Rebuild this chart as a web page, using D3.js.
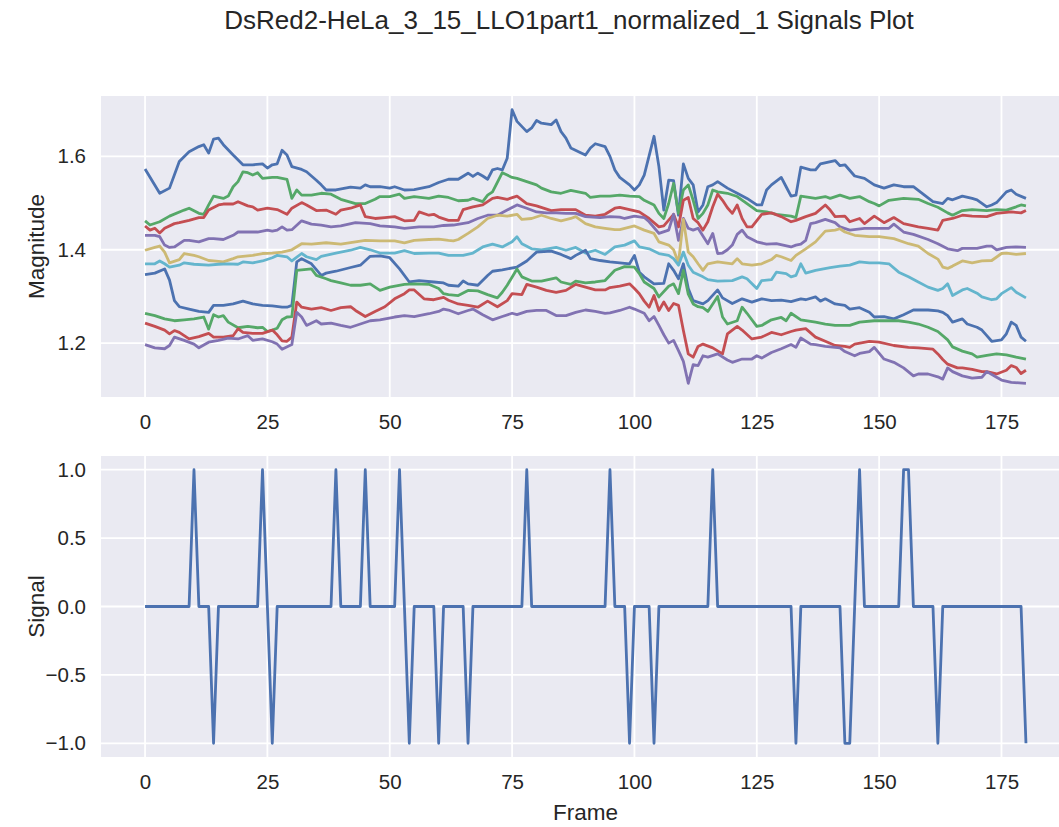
<!DOCTYPE html>
<html>
<head>
<meta charset="utf-8">
<script src="https://cdn.jsdelivr.net/npm/d3@7"></script>
<style>
  body { margin: 0; background: white; }
  text { font-family: "Liberation Sans", Arial, sans-serif; fill: #262626; }
</style>
</head>
<body>
<div class="chart"></div>
<script>
// magnitude traces, [frame, value]
let mag1 = [[0,1.573],[3,1.521],[5,1.532],[7,1.589],[9,1.610],[11,1.621],[12,1.625],[13,1.607],[14,1.637],[15,1.639],[16,1.625],[18,1.603],[20,1.582],[22,1.582],[24,1.584],[25,1.575],[26,1.582],[27,1.584],[28,1.613],[29,1.603],[30,1.578],[32,1.572],[33,1.567],[35,1.549],[36,1.539],[37,1.528],[39,1.528],[42,1.534],[44,1.532],[45,1.539],[46,1.535],[48,1.535],[50,1.532],[51,1.535],[53,1.528],[55,1.529],[58,1.535],[60,1.544],[62,1.551],[64,1.551],[66,1.564],[67,1.557],[68,1.564],[69,1.558],[70,1.551],[71,1.571],[72,1.574],[73,1.571],[74,1.596],[75,1.700],[76,1.675],[78,1.653],[79,1.661],[80,1.677],[81,1.671],[83,1.668],[84,1.678],[85,1.653],[86,1.639],[87,1.618],[89,1.608],[90,1.603],[91,1.618],[92,1.627],[94,1.621],[95,1.600],[96,1.571],[97,1.555],[99,1.539],[100,1.528],[101,1.539],[102,1.560],[104,1.643],[105,1.578],[106,1.485],[107,1.549],[108,1.548],[109,1.474],[110,1.584],[111,1.553],[112,1.539],[113,1.481],[114,1.496],[115,1.535],[116,1.539],[117,1.546],[119,1.532],[121,1.521],[123,1.510],[125,1.496],[126,1.496],[127,1.528],[128,1.539],[130,1.555],[131,1.535],[132,1.515],[133,1.517],[134,1.577],[136,1.571],[137,1.571],[138,1.584],[141,1.591],[142,1.580],[143,1.582],[145,1.558],[147,1.553],[149,1.539],[151,1.532],[153,1.539],[155,1.535],[157,1.535],[159,1.519],[161,1.503],[163,1.499],[164,1.510],[165,1.507],[167,1.515],[169,1.510],[170,1.507],[172,1.492],[173,1.496],[174,1.501],[176,1.524],[177,1.528],[178,1.519],[180,1.510]];
let mag2 = [[0,1.462],[1,1.453],[3,1.460],[5,1.472],[8,1.485],[9,1.489],[11,1.478],[12,1.476],[13,1.496],[14,1.515],[16,1.510],[17,1.515],[18,1.535],[19,1.546],[20,1.567],[21,1.565],[22,1.560],[23,1.565],[24,1.553],[26,1.555],[27,1.555],[29,1.551],[30,1.510],[31,1.528],[32,1.517],[34,1.517],[36,1.521],[38,1.519],[40,1.508],[43,1.499],[45,1.499],[47,1.508],[48,1.514],[50,1.514],[52,1.519],[53,1.510],[55,1.514],[58,1.510],[60,1.515],[62,1.512],[64,1.505],[66,1.506],[67,1.510],[69,1.503],[70,1.517],[71,1.524],[73,1.565],[74,1.560],[75,1.555],[76,1.553],[78,1.546],[80,1.539],[81,1.532],[83,1.524],[85,1.521],[87,1.527],[90,1.521],[91,1.512],[93,1.515],[95,1.515],[97,1.517],[99,1.515],[101,1.514],[102,1.506],[104,1.496],[105,1.478],[106,1.467],[107,1.499],[108,1.542],[109,1.478],[110,1.528],[111,1.539],[112,1.506],[113,1.467],[114,1.478],[115,1.496],[116,1.528],[117,1.524],[119,1.521],[121,1.514],[123,1.499],[125,1.484],[127,1.481],[129,1.476],[132,1.472],[133,1.469],[134,1.515],[137,1.510],[139,1.514],[140,1.510],[142,1.517],[144,1.510],[146,1.514],[148,1.503],[149,1.499],[150,1.494],[152,1.506],[155,1.510],[158,1.508],[160,1.499],[162,1.491],[164,1.479],[165,1.474],[167,1.484],[169,1.486],[172,1.484],[174,1.486],[176,1.485],[178,1.492],[179,1.496],[180,1.494]];
let mag3 = [[0,1.451],[1,1.442],[2,1.446],[3,1.436],[4,1.446],[6,1.456],[7,1.458],[9,1.463],[11,1.469],[12,1.469],[13,1.485],[15,1.496],[16,1.498],[18,1.498],[19,1.503],[21,1.494],[22,1.492],[23,1.485],[25,1.489],[27,1.486],[29,1.476],[30,1.489],[32,1.501],[33,1.496],[35,1.484],[37,1.485],[39,1.476],[40,1.485],[42,1.489],[44,1.496],[45,1.471],[47,1.467],[49,1.469],[51,1.471],[53,1.462],[55,1.463],[56,1.481],[58,1.474],[59,1.476],[60,1.470],[62,1.463],[64,1.463],[65,1.486],[67,1.492],[69,1.496],[71,1.510],[72,1.512],[74,1.508],[76,1.515],[78,1.499],[80,1.494],[83,1.484],[85,1.486],[88,1.486],[90,1.474],[92,1.472],[94,1.476],[96,1.489],[97,1.491],[99,1.486],[101,1.481],[103,1.467],[105,1.449],[106,1.451],[108,1.476],[109,1.449],[110,1.506],[111,1.512],[112,1.467],[113,1.458],[114,1.442],[115,1.460],[116,1.492],[117,1.519],[118,1.506],[119,1.490],[120,1.478],[121,1.496],[122,1.467],[123,1.449],[124,1.449],[126,1.476],[128,1.479],[130,1.471],[132,1.460],[133,1.463],[135,1.471],[137,1.478],[139,1.496],[140,1.485],[141,1.471],[143,1.472],[144,1.460],[146,1.467],[147,1.456],[149,1.472],[151,1.458],[153,1.469],[155,1.456],[158,1.449],[160,1.446],[162,1.442],[163,1.463],[165,1.467],[167,1.474],[169,1.472],[172,1.471],[174,1.478],[177,1.481],[179,1.479],[180,1.484]];
let mag4 = [[0,1.431],[2,1.431],[3,1.428],[4,1.410],[5,1.405],[6,1.406],[8,1.420],[9,1.420],[11,1.417],[13,1.424],[14,1.424],[16,1.422],[18,1.431],[19,1.438],[21,1.438],[23,1.438],[25,1.442],[26,1.440],[27,1.442],[28,1.449],[29,1.442],[30,1.443],[32,1.462],[34,1.455],[36,1.453],[38,1.449],[40,1.451],[43,1.458],[46,1.456],[48,1.451],[51,1.449],[53,1.446],[56,1.449],[59,1.449],[61,1.452],[63,1.453],[66,1.458],[68,1.467],[70,1.474],[72,1.474],[74,1.485],[76,1.496],[78,1.489],[80,1.481],[82,1.479],[84,1.479],[86,1.478],[88,1.478],[90,1.471],[93,1.469],[95,1.471],[97,1.470],[98,1.467],[100,1.472],[102,1.469],[103,1.460],[105,1.435],[107,1.442],[108,1.476],[109,1.420],[110,1.467],[111,1.446],[112,1.442],[113,1.446],[115,1.413],[116,1.435],[117,1.392],[118,1.393],[119,1.400],[120,1.410],[121,1.433],[122,1.442],[123,1.428],[125,1.417],[127,1.412],[129,1.413],[132,1.406],[133,1.410],[134,1.412],[135,1.420],[136,1.456],[137,1.458],[139,1.465],[141,1.458],[142,1.449],[144,1.442],[147,1.446],[149,1.446],[152,1.446],[153,1.455],[155,1.438],[157,1.433],[160,1.422],[162,1.413],[164,1.402],[166,1.398],[167,1.403],[170,1.403],[172,1.408],[173,1.408],[174,1.400],[176,1.405],[178,1.406],[180,1.405]];
let mag5 = [[0,1.399],[2,1.405],[3,1.408],[4,1.395],[5,1.372],[7,1.379],[8,1.392],[10,1.388],[11,1.385],[13,1.377],[14,1.376],[16,1.374],[18,1.381],[19,1.385],[22,1.388],[24,1.392],[26,1.393],[28,1.395],[30,1.400],[32,1.413],[34,1.412],[37,1.415],[40,1.412],[43,1.417],[45,1.420],[48,1.419],[51,1.419],[53,1.415],[55,1.420],[58,1.422],[60,1.423],[62,1.420],[63,1.419],[64,1.422],[66,1.435],[68,1.449],[70,1.467],[72,1.474],[74,1.472],[76,1.476],[77,1.465],[79,1.467],[81,1.474],[83,1.467],[85,1.462],[87,1.467],[88,1.471],[90,1.456],[92,1.449],[94,1.446],[96,1.443],[97,1.443],[100,1.451],[102,1.442],[104,1.435],[105,1.417],[107,1.410],[108,1.400],[109,1.372],[110,1.465],[111,1.395],[112,1.385],[113,1.370],[114,1.356],[115,1.370],[117,1.374],[120,1.370],[121,1.381],[122,1.370],[124,1.367],[126,1.370],[128,1.379],[129,1.388],[130,1.385],[132,1.377],[133,1.388],[135,1.402],[137,1.417],[139,1.440],[141,1.442],[142,1.445],[143,1.438],[145,1.431],[148,1.428],[150,1.428],[153,1.424],[156,1.413],[158,1.408],[160,1.392],[162,1.380],[163,1.363],[164,1.360],[165,1.365],[167,1.376],[169,1.372],[171,1.376],[173,1.377],[175,1.392],[176,1.393],[178,1.390],[180,1.392]];
let mag6 = [[0,1.370],[2,1.370],[3,1.376],[4,1.370],[5,1.363],[7,1.367],[8,1.372],[10,1.369],[13,1.367],[15,1.369],[17,1.370],[19,1.369],[20,1.374],[22,1.372],[24,1.376],[26,1.383],[27,1.388],[29,1.385],[30,1.376],[32,1.392],[33,1.385],[35,1.379],[36,1.386],[39,1.393],[42,1.399],[44,1.405],[46,1.400],[48,1.393],[51,1.393],[53,1.398],[55,1.392],[58,1.393],[60,1.393],[62,1.388],[65,1.388],[67,1.393],[69,1.406],[71,1.412],[73,1.406],[75,1.417],[76,1.428],[77,1.413],[79,1.402],[81,1.400],[84,1.405],[86,1.399],[88,1.405],[90,1.393],[92,1.399],[94,1.390],[96,1.406],[98,1.410],[100,1.419],[101,1.406],[103,1.402],[105,1.392],[107,1.388],[108,1.381],[109,1.367],[110,1.395],[111,1.367],[112,1.352],[114,1.342],[115,1.336],[117,1.333],[120,1.334],[122,1.342],[123,1.338],[125,1.317],[126,1.334],[128,1.336],[129,1.352],[131,1.349],[132,1.342],[133,1.345],[134,1.370],[135,1.350],[137,1.356],[140,1.362],[142,1.365],[144,1.367],[146,1.374],[148,1.372],[150,1.372],[152,1.370],[154,1.352],[156,1.342],[158,1.331],[160,1.320],[162,1.313],[163,1.317],[164,1.327],[165,1.302],[167,1.314],[168,1.317],[170,1.307],[171,1.299],[173,1.293],[174,1.295],[175,1.306],[177,1.319],[178,1.309],[180,1.297]];
let mag7 = [[0,1.347],[2,1.350],[4,1.359],[5,1.335],[6,1.291],[7,1.278],[9,1.273],[11,1.268],[13,1.266],[14,1.281],[16,1.281],[18,1.284],[20,1.290],[22,1.284],[24,1.281],[26,1.280],[28,1.277],[29,1.277],[30,1.281],[31,1.374],[32,1.381],[34,1.370],[36,1.345],[37,1.350],[39,1.354],[42,1.362],[44,1.367],[46,1.386],[48,1.387],[50,1.383],[52,1.359],[54,1.331],[56,1.334],[59,1.331],[61,1.329],[62,1.324],[64,1.322],[65,1.333],[66,1.327],[68,1.324],[70,1.345],[71,1.354],[73,1.357],[76,1.363],[78,1.376],[80,1.395],[83,1.397],[85,1.390],[87,1.381],[88,1.388],[90,1.399],[91,1.381],[93,1.377],[95,1.374],[97,1.372],[99,1.370],[100,1.388],[101,1.352],[102,1.342],[104,1.327],[106,1.328],[107,1.370],[108,1.356],[109,1.338],[110,1.370],[111,1.317],[112,1.291],[114,1.284],[115,1.291],[117,1.314],[118,1.297],[120,1.285],[122,1.295],[124,1.288],[126,1.295],[128,1.291],[130,1.292],[132,1.289],[134,1.295],[135,1.293],[137,1.299],[138,1.290],[139,1.295],[141,1.284],[143,1.281],[144,1.273],[146,1.276],[148,1.266],[149,1.256],[151,1.257],[153,1.252],[155,1.261],[157,1.271],[160,1.271],[162,1.269],[163,1.266],[164,1.259],[165,1.245],[167,1.252],[168,1.241],[170,1.234],[171,1.228],[172,1.216],[173,1.204],[175,1.207],[176,1.220],[177,1.245],[178,1.238],[179,1.213],[180,1.204]];
let mag8 = [[0,1.264],[2,1.259],[4,1.252],[6,1.248],[8,1.250],[10,1.252],[12,1.256],[13,1.230],[14,1.261],[15,1.256],[16,1.259],[17,1.245],[19,1.233],[21,1.236],[23,1.233],[24,1.234],[25,1.225],[26,1.228],[27,1.232],[28,1.250],[29,1.256],[30,1.257],[31,1.356],[32,1.357],[34,1.359],[35,1.345],[37,1.338],[38,1.334],[40,1.329],[42,1.324],[44,1.324],[46,1.327],[48,1.313],[50,1.320],[53,1.326],[55,1.327],[58,1.326],[60,1.317],[61,1.306],[62,1.304],[64,1.302],[66,1.313],[68,1.312],[70,1.304],[72,1.297],[73,1.309],[74,1.324],[76,1.359],[77,1.342],[79,1.333],[81,1.333],[84,1.340],[85,1.331],[87,1.326],[88,1.333],[90,1.329],[92,1.331],[94,1.334],[96,1.356],[98,1.364],[100,1.363],[101,1.349],[102,1.331],[104,1.317],[105,1.299],[107,1.322],[108,1.327],[109,1.306],[110,1.356],[111,1.305],[112,1.284],[113,1.278],[114,1.276],[115,1.268],[117,1.300],[118,1.256],[119,1.241],[121,1.248],[122,1.277],[123,1.264],[125,1.236],[126,1.238],[128,1.250],[130,1.255],[131,1.248],[132,1.264],[134,1.250],[137,1.245],[139,1.241],[141,1.238],[144,1.238],[146,1.245],[149,1.248],[152,1.248],[154,1.248],[156,1.245],[158,1.241],[160,1.234],[162,1.225],[164,1.207],[165,1.192],[167,1.183],[169,1.177],[170,1.170],[172,1.174],[174,1.177],[176,1.175],[178,1.170],[180,1.166]];
let mag9 = [[0,1.243],[2,1.236],[4,1.228],[5,1.220],[6,1.227],[7,1.223],[9,1.209],[11,1.214],[13,1.221],[14,1.213],[16,1.213],[18,1.216],[19,1.231],[20,1.223],[22,1.221],[24,1.221],[26,1.228],[27,1.218],[28,1.205],[29,1.204],[30,1.213],[31,1.288],[32,1.277],[34,1.273],[36,1.276],[38,1.270],[40,1.276],[42,1.278],[43,1.270],[45,1.257],[47,1.268],[49,1.278],[51,1.295],[53,1.306],[54,1.314],[55,1.314],[57,1.295],[59,1.293],[61,1.298],[62,1.292],[64,1.284],[66,1.281],[68,1.277],[70,1.290],[72,1.278],[74,1.291],[75,1.306],[77,1.304],[78,1.326],[80,1.320],[82,1.313],[84,1.309],[86,1.313],[88,1.326],[90,1.320],[92,1.314],[94,1.314],[95,1.319],[97,1.322],[99,1.327],[100,1.317],[101,1.306],[102,1.290],[103,1.277],[104,1.302],[105,1.270],[106,1.288],[107,1.270],[108,1.285],[109,1.281],[110,1.227],[111,1.177],[112,1.170],[113,1.193],[114,1.198],[116,1.190],[118,1.177],[119,1.220],[121,1.236],[122,1.228],[124,1.209],[126,1.213],[128,1.223],[130,1.218],[132,1.225],[133,1.228],[135,1.231],[137,1.213],[139,1.204],[141,1.195],[143,1.193],[144,1.191],[145,1.198],[148,1.204],[150,1.202],[153,1.195],[156,1.191],[158,1.190],[161,1.187],[162,1.177],[163,1.165],[164,1.155],[166,1.147],[167,1.147],[169,1.144],[171,1.139],[172,1.139],[174,1.134],[176,1.142],[177,1.152],[178,1.148],[179,1.135],[180,1.142]];
let mag10 = [[0,1.197],[2,1.190],[4,1.188],[5,1.195],[6,1.213],[8,1.206],[10,1.198],[11,1.190],[13,1.202],[15,1.206],[17,1.211],[19,1.209],[21,1.216],[22,1.206],[24,1.209],[26,1.203],[27,1.198],[28,1.187],[30,1.197],[31,1.266],[32,1.256],[33,1.238],[35,1.248],[36,1.241],[38,1.243],[40,1.238],[42,1.234],[44,1.241],[46,1.248],[48,1.250],[51,1.256],[53,1.259],[55,1.257],[58,1.263],[60,1.268],[61,1.273],[62,1.271],[64,1.263],[66,1.270],[67,1.273],[69,1.261],[71,1.250],[73,1.257],[75,1.264],[76,1.261],[78,1.268],[80,1.270],[82,1.270],[84,1.259],[86,1.259],[88,1.266],[90,1.271],[92,1.268],[94,1.264],[95,1.265],[97,1.270],[99,1.277],[100,1.273],[102,1.264],[103,1.248],[104,1.257],[105,1.238],[106,1.218],[107,1.200],[108,1.206],[109,1.184],[110,1.161],[111,1.114],[112,1.154],[113,1.152],[114,1.173],[115,1.170],[117,1.177],[119,1.164],[120,1.159],[122,1.166],[124,1.166],[125,1.173],[126,1.168],[128,1.180],[130,1.188],[132,1.197],[133,1.191],[134,1.211],[136,1.198],[137,1.197],[139,1.193],[142,1.190],[143,1.182],[145,1.173],[146,1.178],[148,1.182],[149,1.191],[151,1.166],[153,1.159],[155,1.147],[157,1.130],[158,1.134],[160,1.134],[162,1.128],[163,1.123],[164,1.147],[165,1.139],[167,1.130],[169,1.125],[171,1.127],[172,1.139],[174,1.127],[175,1.121],[177,1.116],[180,1.114]];

// signal: frames where it is +1 / -1, zero elsewhere
let frameCount = 181;
let signalUp = [10, 24, 39, 45, 52, 78, 95, 116, 146, 155, 156];
let signalDown = [14, 26, 54, 60, 66, 99, 104, 133, 143, 144, 162, 180];

let xTicks = [0, 25, 50, 75, 100, 125, 150, 175];
let magTicks = [1.2, 1.4, 1.6];
let sigTicks = [-1.0, -0.5, 0.0, 0.5, 1.0];

let series = [mag1, mag2, mag3, mag4, mag5, mag6, mag7, mag8, mag9, mag10];
let palette = ["#4C72B0", "#55A868", "#C44E52", "#8172B2", "#CCB974", "#64B5CD"];

let signal = d3.range(frameCount).map(function (f) {
    let v = 0;
    if (signalUp.indexOf(f) >= 0) v = 1;
    if (signalDown.indexOf(f) >= 0) v = -1;
    return [f, v];
});

let svg = d3
    .select(".chart")
    .append("svg")
    .attr("width", 1059)
    .attr("height", 827)
    .style("background-color", "white");

let axLeft = 101;
let axRight = 1070;
let topPanel = { top: 96, bottom: 397 };
let botPanel = { top: 456, bottom: 757 };

let tickFont = "20.5px";
let labelFont = "22.5px";

// matplotlib-like 5% margins
function padded(ext) {
    let m = (ext[1] - ext[0]) * 0.05;
    return [ext[0] - m, ext[1] + m];
}

let x = d3
    .scaleLinear()
    .domain(padded([0, frameCount - 1]))
    .range([axLeft, axRight]);

let allVals = [];
series.forEach(function (s) { s.forEach(function (p) { allVals.push(p[1]); }); });

let yMag = d3
    .scaleLinear()
    .domain(padded(d3.extent(allVals)))
    .range([topPanel.bottom, topPanel.top]);

let ySig = d3
    .scaleLinear()
    .domain(padded([-1, 1]))
    .range([botPanel.bottom, botPanel.top]);

function drawPanel(panel, y, yTicks, yFormat, yLabel) {
    let g = svg.append("g");

    g.append("rect")
        .attr("x", axLeft)
        .attr("y", panel.top)
        .attr("width", axRight - axLeft)
        .attr("height", panel.bottom - panel.top)
        .attr("fill", "#EAEAF2");

    // white grid
    g.append("g")
        .selectAll("line")
        .data(xTicks)
        .enter()
        .append("line")
        .attr("x1", function (d) { return x(d); })
        .attr("x2", function (d) { return x(d); })
        .attr("y1", panel.top)
        .attr("y2", panel.bottom)
        .attr("stroke", "white")
        .attr("stroke-width", 1.8);

    g.append("g")
        .selectAll("line")
        .data(yTicks)
        .enter()
        .append("line")
        .attr("x1", axLeft)
        .attr("x2", axRight)
        .attr("y1", function (d) { return y(d); })
        .attr("y2", function (d) { return y(d); })
        .attr("stroke", "white")
        .attr("stroke-width", 1.8);

    let xAxis = g.append("g")
        .attr("transform", "translate(0," + panel.bottom + ")")
        .call(d3.axisBottom(x).tickValues(xTicks).tickSize(0).tickPadding(17).tickFormat(d3.format("d")));

    let yAxis = g.append("g")
        .attr("transform", "translate(" + axLeft + ",0)")
        .call(d3.axisLeft(y).tickValues(yTicks).tickSize(0).tickPadding(15).tickFormat(yFormat));

    [xAxis, yAxis].forEach(function (a) {
        a.select(".domain").remove();
        a.selectAll("text")
            .style("font-family", "'Liberation Sans', Arial, sans-serif")
            .style("font-size", tickFont)
            .style("fill", "#262626");
    });

    svg.append("text")
        .attr("transform", "translate(36," + (panel.top + panel.bottom) / 2 + ") rotate(-90)")
        .attr("text-anchor", "middle")
        .attr("dy", "0.35em")
        .style("font-size", labelFont)
        .text(yLabel);

    return g;
}

drawPanel(topPanel, yMag, magTicks, d3.format(".1f"), "Magnitude");
drawPanel(botPanel, ySig, sigTicks, function (d) { return d3.format(".1f")(d).replace("-", "\u2212"); }, "Signal");

let magLine = d3.line()
    .x(function (d) { return x(d[0]); })
    .y(function (d) { return yMag(d[1]); });

svg.append("g")
    .selectAll("path")
    .data(series)
    .enter()
    .append("path")
    .attr("d", magLine)
    .attr("fill", "none")
    .attr("stroke", function (d, i) { return palette[i % palette.length]; })
    .attr("stroke-width", 2.8)
    .attr("stroke-linejoin", "round")
    .attr("stroke-linecap", "butt");

let sigLine = d3.line()
    .x(function (d) { return x(d[0]); })
    .y(function (d) { return ySig(d[1]); });

svg.append("path")
    .datum(signal)
    .attr("d", sigLine)
    .attr("fill", "none")
    .attr("stroke", palette[0])
    .attr("stroke-width", 2.8)
    .attr("stroke-linejoin", "round");

svg.append("text")
    .attr("x", (axLeft + axRight) / 2)
    .attr("y", 812)
    .attr("dy", "0.35em")
    .attr("text-anchor", "middle")
    .style("font-size", labelFont)
    .text("Frame");

svg.append("text")
    .attr("x", 569)
    .attr("y", 20)
    .attr("dy", "0.35em")
    .attr("text-anchor", "middle")
    .style("font-size", "26px")
    .text("DsRed2-HeLa_3_15_LLO1part1_normalized_1 Signals Plot");
</script>
</body>
</html>
